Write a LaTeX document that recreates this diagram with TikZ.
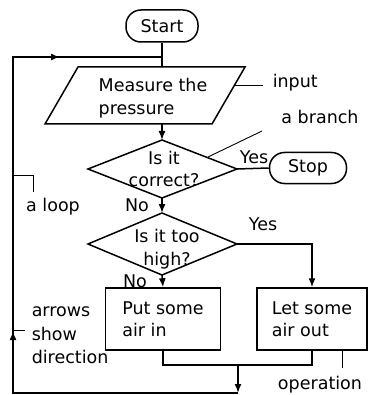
\documentclass[tikz,border=0pt]{standalone}
\usepackage{fontspec}
\setmainfont{DejaVu Sans}
\usetikzlibrary{arrows.meta}
\begin{document}
\begin{tikzpicture}[x=1pt,y=-1pt,line width=1.5pt,
  every node/.style={font=\fontsize{17.5}{22.5}\selectfont,inner sep=0pt},
  term/.style={draw,rounded corners=15pt},
  box/.style={draw,rectangle,align=left},
  thinline/.style={line width=0.9pt},
  arr/.style={-{Latex[length=9pt,width=7pt]}}]
\useasboundingbox (0,0) rectangle (369,395);
% start
\node[term,minimum width=72pt,minimum height=32pt] (start) at (162,26) {Start};
% input parallelogram
\coordinate (pTL) at (78,67);
\coordinate (pTR) at (245,67);
\coordinate (pBR) at (212,124);
\coordinate (pBL) at (45,124);
\draw (pTL) -- (pTR) -- (pBR) -- (pBL) -- cycle;
\node[align=left] (meas) at (153,98) {Measure the\\pressure};
\coordinate (mTop) at (162,67);
\coordinate (mBot) at (162,124);
\coordinate (jn) at (162,57);
\draw (start) -- (mTop);
% decision 1
\coordinate (d1t) at (162,140);
\coordinate (d1r) at (237,169);
\coordinate (d1b) at (162,198);
\coordinate (d1l) at (88,169);
\draw (d1t) -- (d1r) -- (d1b) -- (d1l) -- cycle;
\node[align=center] (q1) at (164,169) {Is it\\correct?};
\draw[arr] (mBot) -- (d1t);
\node[term,minimum width=77pt,minimum height=31pt] (stop) at (308,168) {Stop};
\draw (d1r) -- (stop.west);
\node (yes1) at (254,157) {Yes};
\node (no1) at (137,205) {No};
% decision 2
\coordinate (d2t) at (162,213);
\coordinate (d2r) at (237,244);
\coordinate (d2b) at (162,275);
\coordinate (d2l) at (88,244);
\draw (d2t) -- (d2r) -- (d2b) -- (d2l) -- cycle;
\node[align=center] (q2) at (167,249) {Is it too\\high?};
\draw[arr] (d1b) -- (d2t);
\node (yes2) at (263,224) {Yes};
\node (no2) at (135,281) {No};
% operations
\node[box,minimum width=115pt,minimum height=62pt] (put) at (163,319) {Put some\\air in};
\node[box,minimum width=110pt,minimum height=62pt] (let) at (312,319) {Let some\\air out};
\draw[arr] (d2b) -- (put.north);
\draw[arr] (d2r) -| (let.north);
% merge and loop
\coordinate (mg) at (238,365);
\coordinate (bot) at (238,393);
\coordinate (bl) at (13,393);
\coordinate (tl) at (13,57);
\coordinate (upArr) at (13,331);
\coordinate (rArr) at (60,57);
\draw (put.south) |- (mg) -| (let.south);
\draw[arr] (mg) -- (bot);
\draw (bot) -- (bl) -- (tl) -- (jn);
\draw[arr] (bl) -- (upArr);
\draw[arr] (tl) -- (rArr);
% labels
\coordinate (inA) at (235,85);
\coordinate (inB) at (263,85);
\draw[thinline] (inA) -- (inB);
\node[anchor=west] (input) at (272,83) {input};
\coordinate (brA) at (208,157);
\coordinate (brB) at (262,131);
\draw[thinline] (brA) -- (brB);
\node (branch) at (320,117) {a branch};
\coordinate (lpA) at (13,175);
\coordinate (lpB) at (33,175);
\coordinate (lpC) at (33,192);
\draw[thinline] (lpA) -- (lpB) -- (lpC);
\node (loop) at (53,207) {a loop};
\coordinate (arA) at (13,330);
\coordinate (arB) at (25,330);
\draw[thinline] (arA) -- (arB);
\node[align=left,anchor=north west,font=\fontsize{17.5}{23.5}\selectfont] (arrows) at (31,306) {arrows\\show\\direction};
\coordinate (opA) at (342,350);
\coordinate (opB) at (342,368);
\draw[thinline] (opA) -- (opB);
\node (oper) at (320,385) {operation};
\end{tikzpicture}
\end{document}
